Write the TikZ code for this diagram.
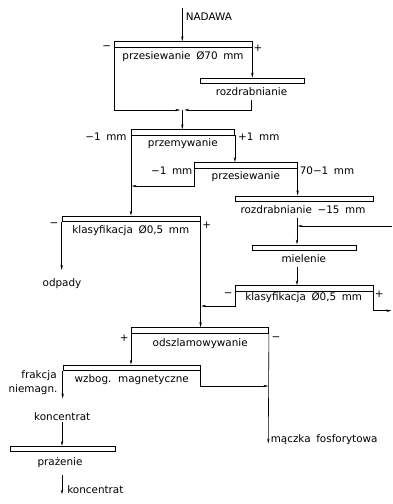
\documentclass[tikz,border=0pt]{standalone}
\usepackage{fontspec}
\setmainfont[WordSpace=1.7]{DejaVu Sans}
\usetikzlibrary{arrows.meta}
\begin{document}
\begin{tikzpicture}[x=1pt,y=-1pt,
  font=\fontsize{10.4}{12}\selectfont,
  line width=0.6pt,
  % process bar with a heavy lower edge
  dbar/.style={draw, fill=white, inner sep=0pt, anchor=north west,
    minimum height=5.5pt,
    path picture={\fill (path picture bounding box.south west) rectangle
      ([yshift=1.8pt]path picture bounding box.south east);}},
  % plain hollow process bar
  hbar/.style={draw, fill=white, inner sep=0pt, anchor=north west,
    minimum height=5pt},
  lbl/.style={inner sep=0pt},
  arr/.style={-{Stealth[length=5pt,width=2.4pt]}}
]
\useasboundingbox (0,0) rectangle (392,504);

% ---- bars ----
\node[dbar, minimum width=137.4pt] (s1) at (114.3,41.3) {};
\node[hbar, minimum width=103.4pt] (r1) at (200.3,77.7) {};
\node[dbar, minimum width=103.3pt] (p)  at (131,129.3) {};
\node[dbar, minimum width=102.7pt] (s2) at (194.3,162) {};
\node[hbar, minimum width=138.3pt] (r2) at (235,195.5) {};
\node[hbar, minimum width=103.4pt] (m)  at (252.3,244.5) {};
\node[dbar, minimum width=137.4pt] (k2) at (235.3,285.3) {};
\node[dbar, minimum width=138.3pt] (k1) at (61.7,215.7) {};
\node[dbar, minimum width=137.3pt] (o)  at (131,327.3) {};
\node[dbar, minimum width=137.3pt] (w)  at (62.7,364.7) {};
\node[hbar, minimum width=105pt]   (pr) at (10,446) {};

% ---- texts ----
\node[lbl, anchor=west] (tin) at (185.5,16.7) {NADAWA};
\node[lbl] (ts1) at (183,56.7) {przesiewanie Ø70 mm};
\node[lbl] (ts1m) at (106.7,48) {−};
\node[lbl] (ts1p) at (258,48) {+};
\node[lbl] (tr1) at (251.5,91.7) {rozdrabnianie};
\node[lbl] (tp) at (182.8,143.3) {przemywanie};
\node[lbl] (tpm) at (106,136.7) {−1 mm};
\node[lbl] (tpp) at (258.8,136.7) {+1 mm};
\node[lbl] (ts2) at (245.8,176.7) {przesiewanie};
\node[lbl] (ts2m) at (171.7,171) {−1 mm};
\node[lbl] (ts2p) at (327,171) {70−1 mm};
\node[lbl] (tr2) at (303,209.3) {rozdrabnianie −15 mm};
\node[lbl] (tm) at (303.8,258.7) {mielenie};
\node[lbl] (tk2) at (303.7,297.7) {klasyfikacja Ø0,5 mm};
\node[lbl] (tk2m) at (228.3,295) {−};
\node[lbl] (tk2p) at (379.3,294) {+};
\node[lbl] (tk1) at (130.8,230.7) {klasyfikacja Ø0,5 mm};
\node[lbl] (tk1m) at (54,225) {−};
\node[lbl] (tk1p) at (206.7,225) {+};
\node[lbl] (todp) at (62,284) {odpady};
\node[lbl] (to) at (200.2,343.3) {odszlamowywanie};
\node[lbl] (top) at (124.3,338.3) {+};
\node[lbl] (tom) at (276,338.3) {−};
\node[lbl] (tw) at (131.7,379.3) {wzbog. magnetyczne};
\node[lbl, anchor=east] (tw1) at (57,376) {frakcja};
\node[lbl, anchor=east] (tw2) at (57.7,390) {niemagn.};
\node[lbl] (tkon) at (62.2,416.7) {koncentrat};
\node[lbl] (tpr) at (60,462.3) {prażenie};
\node[lbl, anchor=west] (tkon2) at (67,490) {koncentrat};
\node[lbl, anchor=west] (tmacz) at (270.5,440) {mączka fosforytowa};

% ---- free ends and junctions ----
\coordinate (in)  at (182.3,8);
\coordinate (j1)  at (182.3,110);
\coordinate (r1o) at (251.7,100);
\coordinate (r2o) at (297,217.5);
\coordinate (mo)  at (297,266.5);
\coordinate (rin) at (392,226);
\coordinate (kout) at (391.5,310.7);
\coordinate (odp) at (61.7,270);
\coordinate (mac) at (268.3,443.5);
\coordinate (nm)  at (62.7,398.5);
\coordinate (kin) at (62,421.5);
\coordinate (kin2) at (62,475);
\coordinate (kend) at (62,494.5);

% ---- connectors ----
\draw[arr] (in) -- (in |- s1.north);
\draw[arr] (s1.south west) |- ([xshift=-2pt]j1);
\draw[arr] (s1.south east) -- (s1.south east |- r1.north);
\draw[arr] (r1o) |- ([xshift=2pt]j1);
\draw[arr] (j1) -- (j1 |- p.north);
\draw[arr] (p.south west) -- (p.south west |- k1.north);
\draw[arr] (p.south east) -- (p.south east |- s2.north);
\draw[arr] (s2.south west) |- ([xshift=0.5pt]p.south west |- 0,186);
\draw[arr] (s2.south east) -- (s2.south east |- r2.north);
\draw[arr] (r2o) -- (r2o |- m.north);
\draw[arr] (rin) -- ([xshift=0.5pt]r2o |- rin);
\draw[arr] (mo) -- (mo |- k2.north);
\draw[arr] (k2.south west) |- ([xshift=0.5pt]k1.south east |- 0,306);
\draw[arr] (k2.south east) |- (kout);
\draw[arr] (k1.south west) -- (odp);
\draw[arr] (k1.south east) -- (k1.south east |- o.north);
\draw[arr] (o.south west) -- (o.south west |- w.north);
\draw[arr] (o.south east) -- (mac);
\draw[arr] (w.south west) -- (nm);
\draw[arr] (w.south east) |- ([xshift=-0.5pt]o.south east |- 0,386);
\draw[arr] (kin) -- (kin |- pr.north);
\draw[arr] (kin2) -- (kend);
\end{tikzpicture}
\end{document}
